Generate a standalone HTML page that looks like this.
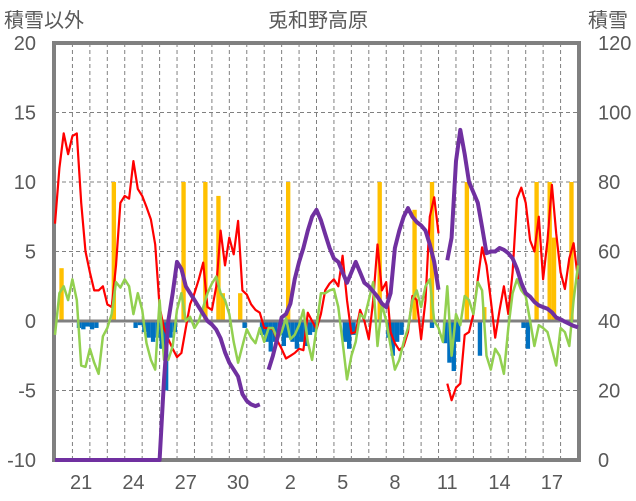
<!DOCTYPE html>
<html><head><meta charset="utf-8">
<style>
html,body{margin:0;padding:0;background:#fff;}
svg{display:block;font-family:"Liberation Sans","Noto Sans CJK JP",sans-serif;}
text{fill:#595959;}
</style></head>
<body>
<svg id="chart" width="636" height="501" viewBox="0 0 636 501" xmlns="http://www.w3.org/2000/svg">
<text x="318" y="27" font-size="20" text-anchor="middle">兎和野高原</text>
<text x="4" y="27" font-size="20">積雪以外</text>
<text x="588" y="27" font-size="20">積雪</text>
<g id="grid"></g>
<g id="bars"></g>
<g id="frame"></g>
<g id="lines"></g>
<g id="axes"></g>
</svg>
<script>
const dayLabels = ["21","24","27","30","2","5","8","11","14","17"];
const dayLabelIndex = [1,4,7,10,13,16,19,22,25,28];
const leftTicks = [20,15,10,5,0,-5,-10];
const rightTicks = [120,100,80,60,40,20,0];
const redSeries = [7.0,11.0,13.5,12.0,13.3,13.5,8.5,5.0,3.5,2.2,2.2,2.5,1.2,1.0,4.0,8.5,9.0,8.8,11.5,9.5,9.0,8.2,7.3,5.5,1.0,-0.5,-1.3,-2.0,-2.6,-2.3,-0.5,1.2,2.0,3.0,4.2,1.0,0.8,2.5,6.5,4.0,6.0,4.8,7.2,2.2,1.9,1.2,0.8,0.6,-0.5,-0.5,-0.6,-1.4,-2.0,-2.7,-2.5,-2.3,-2.0,-2.1,0.6,0.0,-0.6,0.5,2.2,2.7,3.0,2.5,4.7,1.5,-0.9,-0.8,0.8,0.0,-1.3,1.5,5.5,2.2,2.8,-0.8,-1.6,-2.1,-1.8,-0.8,1.8,1.5,-1.3,1.5,7.5,8.9,6.3,null,-4.5,-5.7,-4.8,-4.5,-1.0,-0.8,0.5,3.0,5.3,4.0,1.5,-1.2,0.8,2.5,0.5,3.5,8.8,9.6,8.5,5.8,5.0,7.5,3.0,5.8,9.8,6.3,3.5,2.3,4.5,5.6,3.0];
const greenSeries = [-1.0,2.0,2.5,1.5,3.0,1.5,-3.2,-3.3,-2.0,-3.0,-3.8,-1.1,-0.5,0.5,2.8,2.4,3.0,2.5,0.5,2.0,0.8,-1.6,-2.8,-3.5,1.5,-2.8,-2.8,-1.8,0.8,2.0,0.0,0.3,-0.5,0.0,1.0,2.0,2.7,3.2,2.0,1.5,0.5,-1.5,-3.0,-1.8,-0.6,-1.2,-1.6,-0.5,-1.5,-0.5,-0.5,-1.3,-0.8,0.2,-1.3,-1.0,-0.3,0.8,-1.5,-2.8,-0.5,2.0,2.0,2.2,2.3,1.0,-1.5,-4.2,-2.5,-1.5,0.5,0.2,1.5,2.8,-1.8,1.2,0.0,-1.8,-3.5,-2.8,-1.5,-0.5,1.5,2.2,1.0,2.5,3.0,0.0,-0.5,-1.5,2.5,-2.5,0.5,-0.3,1.8,1.5,0.5,2.8,2.2,-2.5,-3.5,-2.0,-2.5,-3.8,-0.5,2.0,3.0,2.2,1.8,0.0,-1.8,-0.3,-0.5,-0.8,-2.0,-3.2,-0.5,-0.8,-1.8,1.5,4.0];
const snowDepth = [0,0,0,0,0,0,0,0,0,0,0,0,0,0,0,0,0,0,0,0,0,0,0,0,0,23,40,48,57,55,50,48,46,44,42,40,39,37.5,35,31,28,26,24,19,17,16,15.5,16,null,26,30,35,41,42,45,52,57,61,66,70,72,69,65,61,58,57,54,51,54,57,54,51,50,48.5,47,45,44,48,61,66,70,72.5,70,68.5,67.5,66,62,57,49,null,57.5,64,86,95,88,80,77,74,67,59.5,60,60,61,60.5,59.5,58,55,51,48,47,45.5,44.5,44,43.5,42.5,41,40.5,39.8,39.2,38.6,38.2];
const yellowBars = {1:3.8,13:10,29:10,34:10,37:9,38:2,42:2,53:10,74:10,82:8,86:10,94:10,98:1,110:10,113:10,114:6,118:10};
const blueBars = {5:-0.5,6:-0.6,7:-0.4,8:-0.6,9:-0.5,18:-0.5,19:-0.3,20:-0.8,21:-1.2,22:-1.5,23:-1.2,24:-2.0,25:-5,26:-1.2,27:-0.8,43:-0.5,47:-1.0,48:-1.5,49:-2.2,50:-1.5,51:-1.0,52:-1.8,53:-1.2,54:-1.5,55:-2.0,56:-1.5,57:-1.8,58:-1.0,59:-0.8,66:-1.5,67:-2.0,68:-1.0,76:-1.2,77:-2.5,78:-1.5,79:-1.0,86:-0.5,89:-1.6,90:-3.0,91:-3.6,92:-1.5,97:-2.5,107:-0.5,108:-2.0};

const NS="http://www.w3.org/2000/svg";
const X0=55,X1=578,YT=43,YB=460,DAYS=30,STEP=0.25;
const dayW=(X1-X0)/DAYS;
function xT(t){return X0+t*dayW;}
function yL(v){return YB-(v+10)/30*(YB-YT);}
function yR(v){return YB-v/120*(YB-YT);}
function mk(tag,attrs,parent){const e=document.createElementNS(NS,tag);for(const k in attrs)e.setAttribute(k,attrs[k]);parent.appendChild(e);return e;}
const grid=document.getElementById('grid'),bars=document.getElementById('bars'),frame=document.getElementById('frame'),lines=document.getElementById('lines'),axes=document.getElementById('axes');

leftTicks.forEach(v=>{
  if(v===20||v===-10||v===0)return;
  const l=mk('line',{x1:X0,x2:X1,y1:yL(v),y2:yL(v),stroke:'#808080','stroke-width':1,'stroke-dasharray':'4,3'},grid);
  
  
});
for(let d=1;d<DAYS;d++){
  const l=mk('line',{x1:xT(d),x2:xT(d),y1:YT,y2:YB,stroke:'#808080','stroke-width':1,'stroke-dasharray':'4,3'},grid);
  
  
}
function drawBars(obj,color,name){
  for(const k in obj){
    const i=+k,v=obj[k];
    const x=xT(i*STEP),w=dayW*STEP;
    const y=Math.min(yL(v),yL(0)),h=Math.abs(yL(v)-yL(0));
    const r=mk('rect',{x:x,y:y,width:w,height:h,fill:color},bars);
    
    
  }
}
drawBars(yellowBars,'#FFC000','precip-bar');
drawBars(blueBars,'#0070C0','negative-bar');
const b=mk('rect',{x:X0-1,y:YT,width:X1-X0+2,height:YB-YT,fill:'none',stroke:'#808080','stroke-width':4},frame);


const z=mk('line',{x1:X0,x2:X1,y1:yL(0),y2:yL(0),stroke:'#808080','stroke-width':3},frame);


function drawLine(arr,fy,color,w,name){
  let d='',pen=false;
  arr.forEach((v,i)=>{
    if(v===null){pen=false;return;}
    d+=(pen?'L':'M')+xT(i*STEP).toFixed(1)+' '+fy(v).toFixed(1)+' ';pen=true;
  });
  const p=mk('path',{d:d,fill:'none',stroke:color,'stroke-width':w,'stroke-linejoin':'round'},lines);
  
  
}
drawLine(redSeries,yL,'#FF0000',2.2,'temperature-line');
drawLine(greenSeries,yL,'#92D050',2.5,'green-series-line');
drawLine(snowDepth,yR,'#7030A0',4,'snow-depth-line');
leftTicks.forEach(v=>{
  const t=mk('text',{x:36,y:yL(v)+7,'font-size':20,'text-anchor':'end'},axes);
  t.textContent=v;
  
  
});
rightTicks.forEach(v=>{
  const t=mk('text',{x:598,y:yR(v)+7,'font-size':20},axes);
  t.textContent=v;
  
  
});
dayLabels.forEach((s,k)=>{
  const t=mk('text',{x:xT(dayLabelIndex[k]+0.5),y:489,'font-size':20,'text-anchor':'middle'},axes);
  t.textContent=s;
  
  
});
</script>
</body></html>
